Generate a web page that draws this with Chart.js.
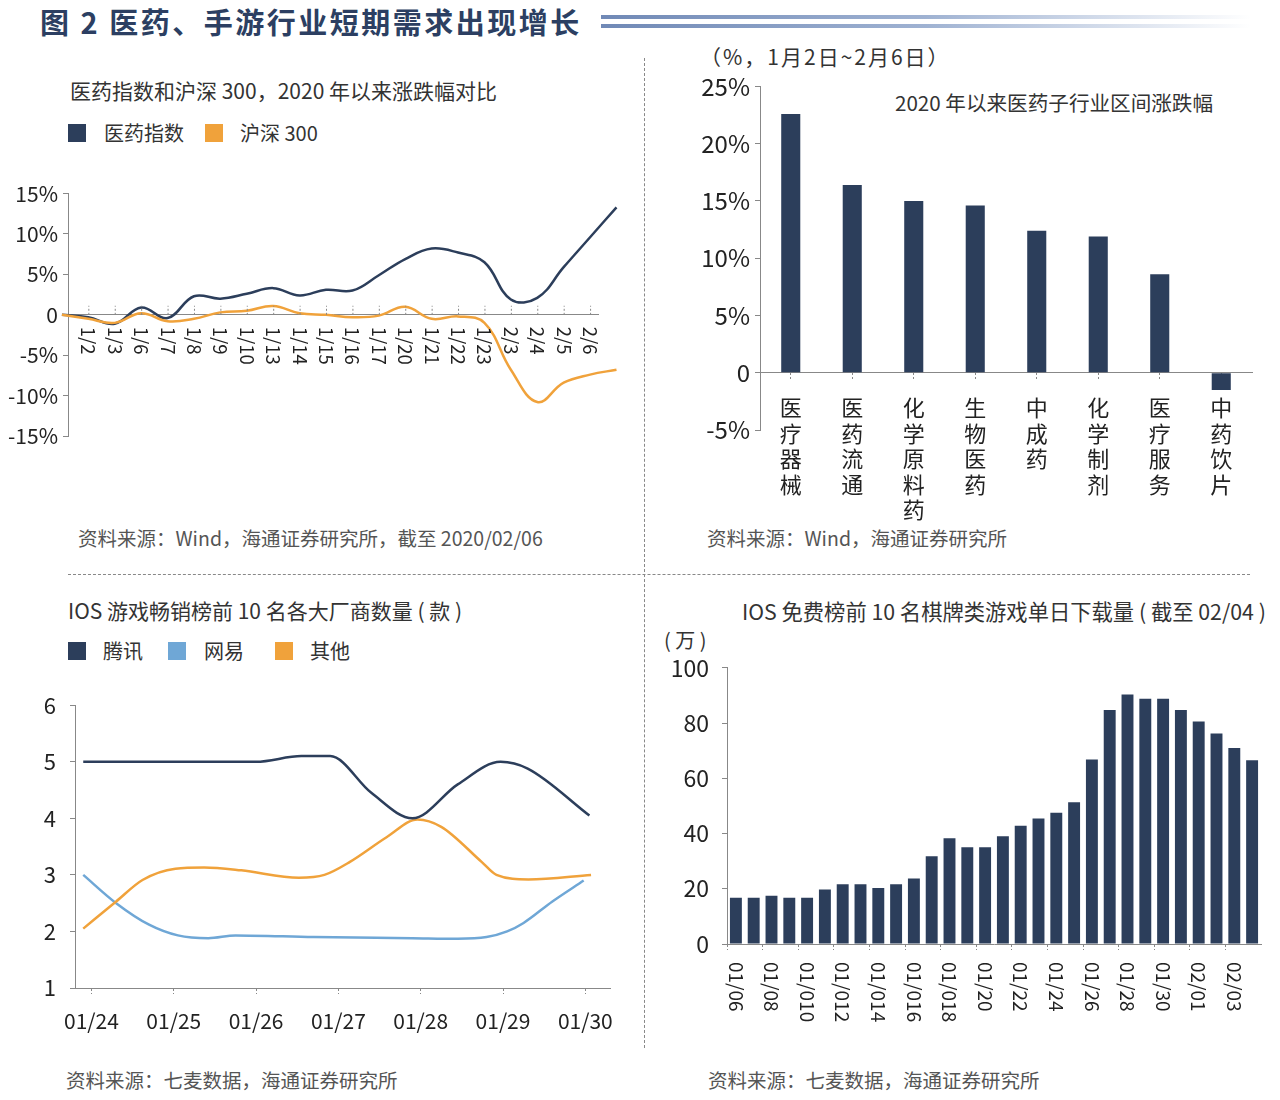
<!DOCTYPE html>
<html>
<head>
<meta charset="utf-8">
<script src="https://cdn.jsdelivr.net/npm/chart.js@4.4.1/dist/chart.umd.min.js"></script>
<style>
  body { margin: 0; background: #fff; }
  #page { position: relative; width: 1280px; height: 1100px; overflow: hidden;
          font-family: 'Noto Sans CJK SC', 'Noto Sans', sans-serif; color: #222; }
  .t { position: absolute; white-space: nowrap; line-height: 1; }
  .sq { position: absolute; width: 18px; height: 18px; }
  canvas { position: absolute; }
  .bar { position: absolute; left: 601px; width: 650px; height: 4px;
         background: linear-gradient(to right, #7089b6, #9fb2d2 50%, rgba(255,255,255,0)); }
</style>
</head>
<body>
<div id="page">
  <div class="t" style="left:40px;top:7px;font-size:29px;font-weight:bold;color:#2c3f62;letter-spacing:2.5px">图 2 医药、手游行业短期需求出现增长</div>
  <div class="bar" style="top:15px"></div>
  <div class="bar" style="top:24px"></div>
  <div style="position:absolute;left:644px;top:58px;height:990px;border-left:1px dashed #888"></div>
  <div style="position:absolute;left:68px;top:574px;width:1182px;border-top:1px dashed #888"></div>

  <div class="t" style="left:70px;top:80px;font-size:21px;color:#333">医药指数和沪深 300，2020 年以来涨跌幅对比</div>
  <div class="sq" style="left:68px;top:124px;background:#2c3e5b"></div>
  <div class="t" style="left:104px;top:123px;font-size:20px;color:#333">医药指数</div>
  <div class="sq" style="left:205px;top:124px;background:#f0a23b"></div>
  <div class="t" style="left:240px;top:123px;font-size:20px;color:#333">沪深 300</div>
  <div class="t" style="left:78px;top:528px;font-size:19.5px;color:#555">资料来源：Wind，海通证券研究所，截至 2020/02/06</div>

  <div class="t" style="left:700px;top:46px;font-size:21px;color:#333;letter-spacing:2px">（%，1月2日~2月6日）</div>
  <div class="t" style="left:895px;top:92px;font-size:20.6px;color:#333">2020 年以来医药子行业区间涨跌幅</div>
  <div class="t" style="left:707px;top:528px;font-size:19.5px;color:#555">资料来源：Wind，海通证券研究所</div>

  <div class="t" style="left:68px;top:600px;font-size:21px;color:#333">IOS 游戏畅销榜前 10 名各大厂商数量 ( 款 )</div>
  <div class="sq" style="left:68px;top:642px;background:#2c3e5b"></div>
  <div class="t" style="left:103px;top:641px;font-size:20px;color:#333">腾讯</div>
  <div class="sq" style="left:168px;top:642px;background:#6fa7d6"></div>
  <div class="t" style="left:204px;top:641px;font-size:20px;color:#333">网易</div>
  <div class="sq" style="left:275px;top:642px;background:#f0a23b"></div>
  <div class="t" style="left:310px;top:641px;font-size:20px;color:#333">其他</div>
  <div class="t" style="left:66px;top:1070px;font-size:19.5px;color:#555">资料来源：七麦数据，海通证券研究所</div>

  <div class="t" style="left:742px;top:600px;font-size:21.3px;color:#333">IOS 免费榜前 10 名棋牌类游戏单日下载量 ( 截至 02/04 )</div>
  <div class="t" style="left:664px;top:630px;font-size:20px;color:#333">( 万 )</div>
  <div class="t" style="left:708px;top:1070px;font-size:19.5px;color:#555">资料来源：七麦数据，海通证券研究所</div>

  <canvas id="c1" width="640" height="294" style="left:0;top:176px"></canvas>
  <canvas id="c2" width="620" height="473" style="left:650px;top:67px"></canvas>
  <canvas id="c3" width="640" height="362" style="left:0;top:678px"></canvas>
  <canvas id="c4" width="630" height="409" style="left:650px;top:641px"></canvas>
</div>
<script>
// chart 1: 医药指数 vs 沪深300 (%)
var idxDates = ['', '1/2', '1/3', '1/6', '1/7', '1/8', '1/9', '1/10', '1/13', '1/14', '1/15', '1/16',
  '1/17', '1/20', '1/21', '1/22', '1/23', '2/3', '2/4', '2/5', '2/6', ''];
var yiyao = [0, -0.3, -1.1, 0.9, -0.4, 2.3, 2.0, 2.6, 3.3, 2.4, 3.1, 3.0,
  4.9, 6.9, 8.2, 7.7, 6.5, 1.9, 2.1, 5.9, 9.6, 13.3];
var hs300 = [0, -0.5, -1.0, 0.2, -0.8, -0.5, 0.3, 0.5, 1.1, 0.2, 0.0, -0.3,
  -0.1, 1.0, -0.5, -0.2, -1.0, -6.8, -10.8, -8.4, -7.4, -6.8];

// chart 2: 子行业涨跌幅 (%)
var sectors = ['医疗器械', '医药流通', '化学原料药', '生物医药', '中成药', '化学制剂', '医疗服务', '中药饮片'];
var sectorChg = [22.6, 16.4, 15.0, 14.6, 12.4, 11.9, 8.6, -1.5];

// chart 3: 畅销榜前10 各厂商数量
var gameDays = ['01/24', '01/25', '01/26', '01/27', '01/28', '01/29', '01/30'];
var txX = [-0.1, 1.0, 2.0, 2.55, 2.9, 3.4, 3.9, 4.45, 4.97, 5.3, 6.05];
var txY = [5, 5, 5, 5.1, 5.1, 4.45, 4.0, 4.6, 5.0, 4.88, 4.05];
var wyX = [-0.1, 0.3, 0.7, 1.05, 1.42, 1.75, 2.7, 3.9, 4.45, 4.8, 5.05, 5.25, 5.6, 5.98];
var wyY = [3.0, 2.5, 2.12, 1.93, 1.88, 1.93, 1.9, 1.88, 1.87, 1.9, 2.0, 2.15, 2.53, 2.9];
var qtX = [-0.1, 0.3, 0.62, 1.02, 1.37, 1.82, 2.52, 2.83, 3.14, 3.59, 3.96, 4.25, 4.74, 4.92, 5.31, 6.07];
var qtY = [2.05, 2.53, 2.91, 3.11, 3.13, 3.08, 2.95, 3.0, 3.23, 3.67, 3.98, 3.85, 3.23, 3.0, 2.92, 3.0];

// chart 4: 棋牌类游戏单日下载量 (万)
var dlTicks = ['01/06', '01/08', '01/010', '01/012', '01/014', '01/016', '01/018', '01/20',
  '01/22', '01/24', '01/26', '01/28', '01/30', '02/01', '02/03'];
var dlVals = [16.7, 16.7, 17.5, 16.7, 16.7, 19.7, 21.6, 21.6, 20.3, 21.6, 23.7, 31.8, 38.3, 35.0, 35.0,
  39.0, 42.8, 45.4, 47.5, 51.3, 66.8, 84.7, 90.3, 88.8, 88.8, 84.7, 80.6, 76.2, 71.0, 66.5];

var NAVY = '#2c3e5b', ORANGE = '#f0a23b', LBLUE = '#6fa7d6', AX = '#888';

Chart.defaults.font.family = "'Noto Sans CJK SC', 'Noto Sans', sans-serif";
Chart.defaults.color = '#222';
Chart.defaults.animation = false;
Chart.defaults.plugins.legend.display = false;
Chart.defaults.plugins.tooltip.enabled = false;

// x labels drawn under the zero line: rotated clockwise or stacked char by char
var sideLabels = {
  id: 'sideLabels',
  afterDraw: function (chart, args, o) {
    if (!o || !o.labels) return;
    var ctx = chart.ctx, xs = chart.scales.x, ys = chart.scales.y;
    var base = ys.getPixelForValue(o.at);
    ctx.save();
    ctx.font = o.font;
    ctx.fillStyle = '#222';
    ctx.strokeStyle = AX;
    ctx.lineWidth = 1;
    ctx.setLineDash([2, 2]);
    o.labels.forEach(function (lab, i) {
      if (!lab) return;
      var px = xs.getPixelForValue(i);
      if (o.tick) {
        ctx.beginPath(); ctx.moveTo(px + 0.5, base); ctx.lineTo(px + 0.5, base + o.tick); ctx.stroke();
      }
      if (o.stack) {
        ctx.textAlign = 'center'; ctx.textBaseline = 'middle';
        Array.from(lab).forEach(function (ch, k) { ctx.fillText(ch, px, base + o.gap + k * o.step); });
      } else {
        ctx.save();
        ctx.translate(px, base + o.gap);
        ctx.rotate(Math.PI / 2);
        ctx.textAlign = 'left'; ctx.textBaseline = 'middle';
        ctx.fillText(lab, 0, 0);
        ctx.restore();
      }
    });
    ctx.restore();
  }
};

function yAxis(min, max, step, size, width, pad, cb) {
  var t = { stepSize: step, font: { size: size }, padding: pad };
  if (cb) t.callback = cb;
  return {
    min: min, max: max, ticks: t,
    grid: { drawOnChartArea: false, tickLength: 5, color: AX },
    border: { color: AX, dash: [2, 2] },
    afterFit: function (s) { s.width = width; }
  };
}
function pct(v) { return v === 0 ? '0' : v + '%'; }
function pts(xs, ys) { return ys.map(function (v, i) { return { x: xs[i], y: v }; }); }

new Chart(document.getElementById('c1'), {
  type: 'line',
  data: {
    datasets: [
      { data: hs300.map(function (v, i) { return { x: i, y: v }; }), borderColor: ORANGE },
      { data: yiyao.map(function (v, i) { return { x: i, y: v }; }), borderColor: NAVY }
    ]
  },
  options: {
    responsive: false,
    layout: { padding: { left: 8, top: 0, right: 42, bottom: 34 } },
    elements: { line: { borderWidth: 2.5, tension: 0.4 }, point: { radius: 0 } },
    datasets: { line: { clip: false } },
    scales: {
      x: {
        type: 'linear', min: 0.23, max: 20.3, position: { y: 0 },
        ticks: { display: false }, grid: { display: false },
        border: { color: AX, dash: [2, 2] },
        afterFit: function (s) { s.height = 0; }
      },
      y: yAxis(-15, 15, 5, 21, 60, 5, pct)
    },
    plugins: { sideLabels: { labels: idxDates, at: 0, gap: 12, font: '18.5px "Noto Sans CJK SC"', tick: -9 } }
  },
  plugins: [sideLabels]
});

new Chart(document.getElementById('c2'), {
  type: 'bar',
  data: {
    labels: sectors,
    datasets: [{ data: sectorChg, backgroundColor: NAVY, barPercentage: 0.31, categoryPercentage: 1 }]
  },
  options: {
    responsive: false,
    layout: { padding: { left: 0, top: 0, right: 18, bottom: 110 } },
    scales: {
      x: {
        position: { y: 0 },
        ticks: { display: false },
        grid: { drawOnChartArea: false, offset: false, tickLength: 6, color: AX, tickBorderDash: [2, 2] },
        border: { color: AX, dash: [2, 2] },
        afterFit: function (s) { s.height = 0; }
      },
      y: yAxis(-5, 25, 5, 24, 110, 5, pct)
    },
    plugins: { sideLabels: { labels: sectors, at: 0, stack: true, gap: 35, step: 25.5, font: '22px "Noto Sans CJK SC"' } }
  },
  plugins: [sideLabels]
});

new Chart(document.getElementById('c3'), {
  type: 'line',
  data: {
    datasets: [
      { data: pts(txX, txY), borderColor: NAVY },
      { data: pts(qtX, qtY), borderColor: ORANGE },
      { data: pts(wyX, wyY), borderColor: LBLUE }
    ]
  },
  options: {
    responsive: false,
    layout: { padding: { left: 0, top: 0, right: 30, bottom: 0 } },
    elements: { line: { borderWidth: 2.5, cubicInterpolationMode: 'monotone' }, point: { radius: 0 } },
    scales: {
      x: {
        type: 'linear', min: -0.2, max: 6.3,
        ticks: { stepSize: 1, includeBounds: false, padding: 14, font: { size: 21 },
          callback: function (v) { return gameDays[v] || ''; } },
        grid: { drawOnChartArea: false, tickLength: 6, color: AX, tickBorderDash: [2, 2] },
        border: { color: AX, dash: [2, 2] },
        afterFit: function (s) { s.height = 52; }
      },
      y: yAxis(1, 6, 1, 22, 75, 14)
    }
  }
});

var dlCats = dlVals.map(function (v, i) { return i % 2 ? '' : dlTicks[i / 2]; });
new Chart(document.getElementById('c4'), {
  type: 'bar',
  data: {
    labels: dlCats,
    datasets: [{ data: dlVals, backgroundColor: NAVY, barPercentage: 0.67, categoryPercentage: 1 }]
  },
  options: {
    responsive: false,
    layout: { padding: { left: 0, top: 0, right: 19, bottom: 100 } },
    scales: {
      x: {
        ticks: { display: false },
        grid: { drawOnChartArea: false, tickLength: 6, tickBorderDash: [2, 2],
          color: function (c) { return c.index % 2 === 0 ? AX : 'rgba(0,0,0,0)'; } },
        border: { color: AX, dash: [2, 2] },
        afterFit: function (s) { s.height = 6; }
      },
      y: yAxis(0, 100, 20, 23, 77, 13)
    },
    plugins: { sideLabels: { labels: dlCats, at: 0, gap: 18, font: '19px "Noto Sans CJK SC"' } }
  },
  plugins: [sideLabels]
});
</script>
</body>
</html>
